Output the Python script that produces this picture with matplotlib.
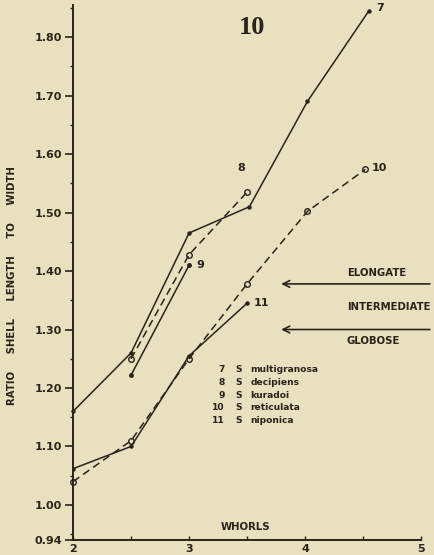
import matplotlib
matplotlib.use("Agg")
import matplotlib.pyplot as plt
import numpy as np

# ---- data ----
x7 = [2.0, 2.5, 3.0, 3.52, 4.02, 4.55]
y7 = [1.16, 1.26, 1.465, 1.51, 1.69, 1.845]
x8 = [2.5, 3.0, 3.5]
y8 = [1.25, 1.428, 1.535]
x9 = [2.5, 3.0]
y9 = [1.222, 1.41]
x10 = [2.0, 2.5, 3.0, 3.5, 4.02, 4.52]
y10 = [1.04, 1.11, 1.25, 1.378, 1.502, 1.574]
x11 = [2.0, 2.5, 3.0, 3.5]
y11 = [1.062, 1.10, 1.255, 1.345]

ytick_vals = [0.94, 1.00, 1.10, 1.20, 1.30, 1.40, 1.50, 1.60, 1.70, 1.80]
ytick_labels = ["0.94", "1.00", "1.10", "1.20", "1.30", "1.40", "1.50", "1.60", "1.70", "1.80"]
xtick_vals = [2, 3, 4, 5]
xtick_labels = ["2", "3", "4", "5"]

legend_nums = ["7", "8", "9", "10", "11"]
legend_names = ["multigranosa", "decipiens", "kuradoi", "reticulata", "niponica"]

bg = "#e8e0bf"
ink = "#2b2417"

fig = plt.figure(figsize=(4.35, 5.55), dpi=100, facecolor=bg)
ax = fig.add_axes([0.168, 0.027, 0.800, 0.964])
ax.set_facecolor(bg)
ax.set_xlim(2, 5)
ax.set_ylim(0.94, 1.855)

for s in ["top", "right"]:
    ax.spines[s].set_visible(False)
for s in ["left", "bottom"]:
    ax.spines[s].set_color(ink)
    ax.spines[s].set_linewidth(1.4)

ax.set_yticks(ytick_vals)
ax.set_yticklabels(ytick_labels)
ax.set_yticks(np.arange(0.95, 1.86, 0.05), minor=True)
ax.set_xticks(xtick_vals)
ax.set_xticklabels(xtick_labels)
ax.set_xticks([2.5, 3.5, 4.5], minor=True)
ax.tick_params(axis="y", which="major", direction="out", length=6, width=1.2,
               colors=ink, labelsize=8, pad=2)
ax.tick_params(axis="y", which="minor", direction="out", length=2, width=1.0, colors=ink)
ax.tick_params(axis="x", which="both", direction="in", length=3, width=1.0,
               colors=ink, labelsize=8, pad=3)
for lab in ax.get_xticklabels() + ax.get_yticklabels():
    lab.set_fontweight("bold")

dash = (0, (5, 3))
lw = 1.1
ax.plot(x7, y7, color=ink, lw=lw, marker="o", ms=2.2, mfc=ink, mec=ink, clip_on=False)
ax.plot(x8, y8, color=ink, lw=lw, ls=dash, marker="o", ms=4, mfc="none", mec=ink, mew=1.0)
ax.plot(x9, y9, color=ink, lw=lw, marker="o", ms=2.5, mfc=ink, mec=ink)
ax.plot(x10, y10, color=ink, lw=lw, ls=dash, marker="o", ms=4, mfc="none", mec=ink,
        mew=1.0, clip_on=False)
ax.plot(x11, y11, color=ink, lw=lw, marker="o", ms=2.2, mfc=ink, mec=ink)

# series labels
tk = dict(color=ink, fontsize=8, fontweight="bold", ha="left", va="center")
ax.text(4.61, 1.85, "7", **tk)
ax.text(3.42, 1.576, "8", **tk)
ax.text(3.06, 1.41, "9", **tk)
ax.text(4.57, 1.577, "10", **tk)
ax.text(3.56, 1.345, "11", **tk)

# title
fig.text(252 / 435, 1 - 27 / 555, "10", ha="center", va="center", color=ink,
         fontsize=19, fontweight="bold", family="Liberation Serif")

# y label
fig.text(12 / 435, 1 - 286 / 555, "RATIO     SHELL     LENGTH     TO     WIDTH", rotation=90,
         ha="center", va="center", color=ink, fontsize=7.3, fontweight="bold")

# arrows & shape classes
for yv in [1.378, 1.30]:
    ax.annotate("", xy=(3.77, yv), xytext=(5.1, yv), xycoords="data",
                arrowprops=dict(arrowstyle="->", color=ink, lw=1.2,
                                mutation_scale=12), annotation_clip=False)
ct = dict(color=ink, fontsize=7.3, fontweight="bold", ha="left", va="center")
ax.text(4.36, 1.397, "ELONGATE", **ct)
ax.text(4.36, 1.338, "INTERMEDIATE", **ct)
ax.text(4.36, 1.281, "GLOBOSE", **ct)

# species key
key_y = [1.231, 1.209, 1.187, 1.166, 1.144]
for n, name, yy in zip(legend_nums, legend_names, key_y):
    ax.text(3.31, yy, n, color=ink, fontsize=6.6, fontweight="bold", ha="right", va="center")
    ax.text(3.40, yy, "S", color=ink, fontsize=6.6, fontweight="bold", ha="left", va="center")
    ax.text(3.53, yy, name, color=ink, fontsize=6.6, fontweight="bold", ha="left", va="center")

ax.text(3.27, 0.963, "WHORLS", color=ink, fontsize=7.3, fontweight="bold", ha="left", va="center")

fig.savefig("out.png", dpi=100, facecolor=bg)
